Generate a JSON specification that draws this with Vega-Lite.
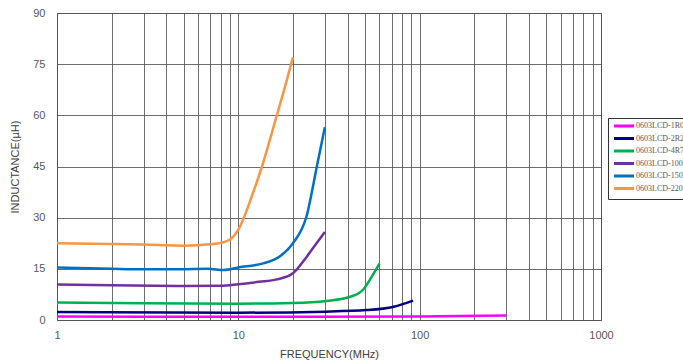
{
  "$schema": "https://vega.github.io/schema/vega-lite/v6.json",
  "width": 544,
  "height": 307,
  "autosize": {"type": "none"},
  "padding": {"left": 57, "top": 13, "right": 82, "bottom": 42},
  "background": "white",
  "config": {
    "view": {"stroke": "#666666", "strokeWidth": 1},
    "axis": {
      "labelFont": "Liberation Sans",
      "titleFont": "Liberation Sans",
      "labelFontSize": 11,
      "titleFontSize": 11,
      "labelColor": "#595959",
      "titleColor": "#404040",
      "titleFontWeight": "normal",
      "gridColor": "#555555",
      "gridWidth": 1,
      "gridOpacity": 0.85,
      "domain": false,
      "ticks": false
    }
  },
  "data": {
    "values": [
      {"series": "0603LCD-1R0K", "f": 1, "L": 1.0},
      {"series": "0603LCD-1R0K", "f": 10, "L": 0.95},
      {"series": "0603LCD-1R0K", "f": 100, "L": 1.05},
      {"series": "0603LCD-1R0K", "f": 300, "L": 1.3},

      {"series": "0603LCD-2R2K", "f": 1, "L": 2.35},
      {"series": "0603LCD-2R2K", "f": 10, "L": 2.15},
      {"series": "0603LCD-2R2K", "f": 30, "L": 2.45},
      {"series": "0603LCD-2R2K", "f": 51, "L": 2.9},
      {"series": "0603LCD-2R2K", "f": 72, "L": 3.9},
      {"series": "0603LCD-2R2K", "f": 92, "L": 5.7},

      {"series": "0603LCD-4R7K", "f": 1, "L": 5.15},
      {"series": "0603LCD-4R7K", "f": 3, "L": 4.9},
      {"series": "0603LCD-4R7K", "f": 10, "L": 4.8},
      {"series": "0603LCD-4R7K", "f": 20, "L": 5.0},
      {"series": "0603LCD-4R7K", "f": 30.7, "L": 5.6},
      {"series": "0603LCD-4R7K", "f": 41.5, "L": 6.8},
      {"series": "0603LCD-4R7K", "f": 49, "L": 9.0},
      {"series": "0603LCD-4R7K", "f": 53.3, "L": 11.9},
      {"series": "0603LCD-4R7K", "f": 60, "L": 16.5},

      {"series": "0603LCD-100K", "f": 1, "L": 10.4},
      {"series": "0603LCD-100K", "f": 2, "L": 10.2},
      {"series": "0603LCD-100K", "f": 5, "L": 10.0},
      {"series": "0603LCD-100K", "f": 8, "L": 10.05},
      {"series": "0603LCD-100K", "f": 10, "L": 10.5},
      {"series": "0603LCD-100K", "f": 13, "L": 11.2},
      {"series": "0603LCD-100K", "f": 16.3, "L": 11.9},
      {"series": "0603LCD-100K", "f": 20, "L": 13.7},
      {"series": "0603LCD-100K", "f": 23.8, "L": 18.5},
      {"series": "0603LCD-100K", "f": 27, "L": 22.5},
      {"series": "0603LCD-100K", "f": 30, "L": 25.8},

      {"series": "0603LCD-150K", "f": 1, "L": 15.4},
      {"series": "0603LCD-150K", "f": 2, "L": 15.0},
      {"series": "0603LCD-150K", "f": 3, "L": 14.85},
      {"series": "0603LCD-150K", "f": 5, "L": 14.9},
      {"series": "0603LCD-150K", "f": 6.8, "L": 15.0},
      {"series": "0603LCD-150K", "f": 8.3, "L": 14.66},
      {"series": "0603LCD-150K", "f": 10, "L": 15.4},
      {"series": "0603LCD-150K", "f": 13.7, "L": 16.6},
      {"series": "0603LCD-150K", "f": 16.9, "L": 18.6},
      {"series": "0603LCD-150K", "f": 20, "L": 22.5},
      {"series": "0603LCD-150K", "f": 23.8, "L": 30.5},
      {"series": "0603LCD-150K", "f": 27.1, "L": 45},
      {"series": "0603LCD-150K", "f": 30, "L": 56.5},

      {"series": "0603LCD-220K", "f": 1, "L": 22.5},
      {"series": "0603LCD-220K", "f": 2, "L": 22.3},
      {"series": "0603LCD-220K", "f": 3, "L": 22.1},
      {"series": "0603LCD-220K", "f": 5, "L": 21.8},
      {"series": "0603LCD-220K", "f": 7, "L": 22.2},
      {"series": "0603LCD-220K", "f": 8, "L": 22.6},
      {"series": "0603LCD-220K", "f": 9, "L": 23.6},
      {"series": "0603LCD-220K", "f": 10, "L": 26.5},
      {"series": "0603LCD-220K", "f": 12, "L": 37},
      {"series": "0603LCD-220K", "f": 13.5, "L": 45},
      {"series": "0603LCD-220K", "f": 16.3, "L": 60},
      {"series": "0603LCD-220K", "f": 18, "L": 68},
      {"series": "0603LCD-220K", "f": 20, "L": 77}
    ]
  },
  "mark": {"type": "line", "interpolate": "monotone", "strokeWidth": 2.5},
  "encoding": {
    "x": {
      "field": "f",
      "type": "quantitative",
      "scale": {"type": "log", "domain": [1, 1000], "nice": false},
      "axis": {
        "title": "FREQUENCY(MHz)",
        "values": [1,2,3,4,5,6,7,8,9,10,20,30,40,50,60,70,80,90,100,200,300,400,500,600,700,800,900,1000],
        "labelExpr": "indexof([1,10,100,1000], datum.value) >= 0 ? datum.value : ''",
        "labelPadding": 9,
        "labelFlush": false,
        "labelOverlap": false,
        "titlePadding": 8
      }
    },
    "y": {
      "field": "L",
      "type": "quantitative",
      "scale": {"domain": [0, 90], "nice": false, "zero": true},
      "axis": {
        "title": "INDUCTANCE(µH)",
        "values": [0, 15, 30, 45, 60, 75, 90],
        "labelPadding": 12,
        "titlePadding": 12
      }
    },
    "color": {
      "field": "series",
      "type": "nominal",
      "sort": ["0603LCD-1R0K", "0603LCD-2R2K", "0603LCD-4R7K", "0603LCD-100K", "0603LCD-150K", "0603LCD-220K"],
      "scale": {
        "domain": ["0603LCD-1R0K", "0603LCD-2R2K", "0603LCD-4R7K", "0603LCD-100K", "0603LCD-150K", "0603LCD-220K"],
        "range": ["#FF00FF", "#000080", "#00B050", "#7030A0", "#0070C0", "#F79646"]
      },
      "legend": {
        "title": null,
        "orient": "none",
        "legendX": 551,
        "legendY": 105,
        "strokeColor": "#333333",
        "padding": 4,
        "symbolType": "M-5,0H5",
        "symbolSize": 16,
        "symbolStrokeWidth": 3,
        "symbolOffset": 8,
        "labelOffset": 8,
        "labelFont": "Liberation Serif",
        "labelFontSize": 8,
        "labelColor": "#595959",
        "rowPadding": 0.5,
        "labelLimit": 200
      }
    }
  }
}
